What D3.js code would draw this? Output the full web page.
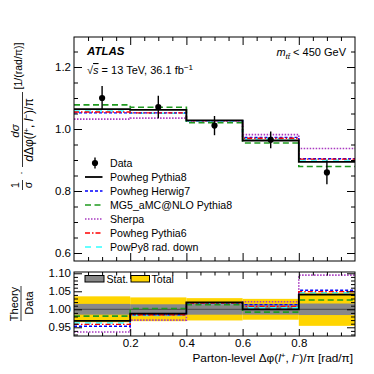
<!DOCTYPE html>
<html><head><meta charset="utf-8">
<script src="https://cdn.jsdelivr.net/npm/d3@7"></script>
<style>
body{margin:0;background:#fff;}
svg text{font-family:"Liberation Sans",Arial,Helvetica,sans-serif;fill:#000;}
</style></head>
<body><svg id="c" width="374" height="374"></svg>
<script>
// ---------- data ----------
const binEdges = [0, 0.2, 0.4, 0.6, 0.8, 1.0];
const dataValues = [1.100, 1.071, 1.011, 0.965, 0.860];
const dataErrors = [0.039, 0.036, 0.031, 0.027, 0.038];

const powhegPythia8 = [1.064, 1.062, 1.028, 0.963, 0.894];
const powhegHerwig7 = [1.052, 1.052, 1.027, 0.973, 0.904];
const mg5Pythia8    = [1.078, 1.070, 1.020, 0.955, 0.879];
const sherpa        = [1.032, 1.035, 1.026, 0.982, 0.937];
const powhegPythia6 = [1.055, 1.052, 1.027, 0.970, 0.903];
const powPy8RadDown = [1.058, 1.051, 1.026, 0.969, 0.900];

const ratioPythia8 = [0.968, 0.988, 1.019, 1.000, 1.041];
const ratioHerwig7 = [0.953, 0.985, 1.017, 1.013, 1.053];
const ratioMG5     = [0.981, 1.002, 1.013, 0.992, 1.026];
const ratioSherpa  = [0.937, 0.970, 1.016, 1.021, 1.095];
const ratioPythia6 = [0.958, 0.985, 1.017, 1.008, 1.049];
const ratioRadDown = [0.962, 0.983, 1.016, 1.004, 1.046];

const statUnc  = [0.015, 0.014, 0.015, 0.015, 0.016];
const totalUnc = [0.036, 0.033, 0.031, 0.029, 0.046];

const seriesNames = ["Powheg Pythia8","Powheg Herwig7","MG5_aMC@NLO Pythia8","Sherpa","Powheg Pythia6","PowPy8 rad. down"];
const xTickLabels = ["0.2","0.4","0.6","0.8"];
const mainYTickLabels = ["0.6","0.8","1.0","1.2"];
const ratioYTickLabels = ["0.95","1.00","1.05","1.10"];

// ---------- styles ----------
const styles = {
  "Powheg Pythia8":      {color:"#000000", dash:null,    w:1.8},
  "Powheg Herwig7":      {color:"#0000ff", dash:"3,2",   w:1.4},
  "MG5_aMC@NLO Pythia8": {color:"#1f9a1f", dash:"6,3.5", w:1.6},
  "Sherpa":              {color:"#a838c0", dash:"1.5,1.5", w:1.6},
  "Powheg Pythia6":      {color:"#ff0000", dash:"5,2,1.5,2", w:1.4},
  "PowPy8 rad. down":    {color:"#33ffff", dash:"6,5",   w:1.6}
};
const mainSeries = {
  "Powheg Pythia8":powhegPythia8, "Powheg Herwig7":powhegHerwig7, "MG5_aMC@NLO Pythia8":mg5Pythia8,
  "Sherpa":sherpa, "Powheg Pythia6":powhegPythia6, "PowPy8 rad. down":powPy8RadDown
};
const ratioSeries = {
  "Powheg Pythia8":ratioPythia8, "Powheg Herwig7":ratioHerwig7, "MG5_aMC@NLO Pythia8":ratioMG5,
  "Sherpa":ratioSherpa, "Powheg Pythia6":ratioPythia6, "PowPy8 rad. down":ratioRadDown
};
const drawOrder = ["Sherpa","PowPy8 rad. down","Powheg Herwig7","Powheg Pythia6","MG5_aMC@NLO Pythia8","Powheg Pythia8"];

// ---------- layout ----------
const L = 74, R = 355;
const mainTop = 37, mainBot = 261;
const ratTop = 272, ratBot = 336;

const svg = d3.select("#c");
const x = d3.scaleLinear().domain([0,1]).range([L,R]);
const y = d3.scaleLinear().domain([0.5742,1.2968]).range([mainBot,mainTop]);
const yr = d3.scaleLinear().domain([0.9258,1.1036]).range([ratBot,ratTop]);

const centers = binEdges.slice(0,-1).map((e,i)=>(e+binEdges[i+1])/2);

function stepPts(vals){
  const pts=[];
  vals.forEach((v,i)=>{pts.push([binEdges[i],v]);pts.push([binEdges[i+1],v]);});
  return pts;
}

// clip paths
const defs = svg.append("defs");
defs.append("clipPath").attr("id","cm").append("rect").attr("x",L).attr("y",mainTop).attr("width",R-L).attr("height",mainBot-mainTop);
defs.append("clipPath").attr("id","cr").append("rect").attr("x",L).attr("y",ratTop).attr("width",R-L).attr("height",ratBot-ratTop);

// ---------- main panel ----------
const gm = svg.append("g").attr("clip-path","url(#cm)");
const lineMain = d3.line().x(d=>x(d[0])).y(d=>y(d[1]));
drawOrder.forEach(n=>{
  const s=styles[n];
  gm.append("path").attr("d",lineMain(stepPts(mainSeries[n]))).attr("fill","none")
    .attr("stroke",s.color).attr("stroke-width",s.w).attr("stroke-dasharray",s.dash);
});
// data
const gd = gm.append("g");
dataValues.forEach((v,i)=>{
  gd.append("line").attr("x1",x(centers[i])).attr("x2",x(centers[i]))
    .attr("y1",y(v-dataErrors[i])).attr("y2",y(v+dataErrors[i])).attr("stroke","#000").attr("stroke-width",1.4);
  gd.append("circle").attr("cx",x(centers[i])).attr("cy",y(v)).attr("r",3.1).attr("fill","#000");
});

// ---------- ratio panel ----------
const gr = svg.append("g").attr("clip-path","url(#cr)");
totalUnc.forEach((u,i)=>{
  gr.append("rect").attr("x",x(binEdges[i])).attr("width",x(binEdges[i+1])-x(binEdges[i]))
    .attr("y",yr(1+u)).attr("height",yr(1-u)-yr(1+u)).attr("fill","#ffd500");
});
statUnc.forEach((u,i)=>{
  gr.append("rect").attr("x",x(binEdges[i])).attr("width",x(binEdges[i+1])-x(binEdges[i]))
    .attr("y",yr(1+u)).attr("height",yr(1-u)-yr(1+u)).attr("fill","#888888");
});
gr.append("line").attr("x1",L).attr("x2",R).attr("y1",yr(1)).attr("y2",yr(1)).attr("stroke","#555").attr("stroke-width",1.2);
const lineRat = d3.line().x(d=>x(d[0])).y(d=>yr(d[1]));
drawOrder.forEach(n=>{
  const s=styles[n];
  gr.append("path").attr("d",lineRat(stepPts(ratioSeries[n]))).attr("fill","none")
    .attr("stroke",s.color).attr("stroke-width",s.w).attr("stroke-dasharray",s.dash);
});

// ---------- axes ----------
function styleAxis(g){ g.select(".domain").remove(); g.selectAll("line").attr("stroke","#000").attr("stroke-width",1); g.selectAll("text").attr("font-size","11.5px").attr("font-family","Liberation Sans, Arial, sans-serif"); }
const xMajor=[0.2,0.4,0.6,0.8];
const xMinor=d3.range(0.05,1.0,0.05).filter(v=>Math.abs(v*5-Math.round(v*5))>1e-6);
// main panel
svg.append("g").attr("transform",`translate(0,${mainBot})`).call(d3.axisBottom(x).tickValues(xMajor).tickSize(-8).tickFormat("")).call(styleAxis);
svg.append("g").attr("transform",`translate(0,${mainBot})`).call(d3.axisBottom(x).tickValues(xMinor).tickSize(-4).tickFormat("")).call(styleAxis);
svg.append("g").attr("transform",`translate(0,${mainTop})`).call(d3.axisTop(x).tickValues(xMajor).tickSize(-8).tickFormat("")).call(styleAxis);
svg.append("g").attr("transform",`translate(0,${mainTop})`).call(d3.axisTop(x).tickValues(xMinor).tickSize(-4).tickFormat("")).call(styleAxis);
const yMajor=mainYTickLabels.map(Number);
const yMinor=d3.range(0.60,1.30,0.05).filter(v=>Math.abs(v*5-Math.round(v*5))>1e-6);
svg.append("g").attr("transform",`translate(${L},0)`).call(d3.axisLeft(y).tickValues(yMajor).tickSize(-8).tickPadding(3).tickFormat((d,i)=>mainYTickLabels[i])).call(styleAxis);
svg.append("g").attr("transform",`translate(${L},0)`).call(d3.axisLeft(y).tickValues(yMinor).tickSize(-4).tickFormat("")).call(styleAxis);
svg.append("g").attr("transform",`translate(${R},0)`).call(d3.axisRight(y).tickValues(yMajor).tickSize(-8).tickFormat("")).call(styleAxis);
svg.append("g").attr("transform",`translate(${R},0)`).call(d3.axisRight(y).tickValues(yMinor).tickSize(-4).tickFormat("")).call(styleAxis);
// ratio panel
svg.append("g").attr("transform",`translate(0,${ratBot})`).call(d3.axisBottom(x).tickValues(xMajor).tickSize(-7).tickPadding(3).tickFormat((d,i)=>xTickLabels[i])).call(styleAxis);
svg.append("g").attr("transform",`translate(0,${ratBot})`).call(d3.axisBottom(x).tickValues(xMinor).tickSize(-3.5).tickFormat("")).call(styleAxis);
svg.append("g").attr("transform",`translate(0,${ratTop})`).call(d3.axisTop(x).tickValues(xMajor).tickSize(-7).tickFormat("")).call(styleAxis);
svg.append("g").attr("transform",`translate(0,${ratTop})`).call(d3.axisTop(x).tickValues(xMinor).tickSize(-3.5).tickFormat("")).call(styleAxis);
const rMajor=ratioYTickLabels.map(Number);
const rMinor=d3.range(0.93,1.101,0.01).filter(v=>Math.abs(v*20-Math.round(v*20))>1e-6);
svg.append("g").attr("transform",`translate(${L},0)`).call(d3.axisLeft(yr).tickValues(rMajor).tickSize(-8).tickPadding(3).tickFormat((d,i)=>ratioYTickLabels[i])).call(styleAxis);
svg.append("g").attr("transform",`translate(${L},0)`).call(d3.axisLeft(yr).tickValues(rMinor).tickSize(-4).tickFormat("")).call(styleAxis);
svg.append("g").attr("transform",`translate(${R},0)`).call(d3.axisRight(yr).tickValues(rMajor).tickSize(-8).tickFormat("")).call(styleAxis);
svg.append("g").attr("transform",`translate(${R},0)`).call(d3.axisRight(yr).tickValues(rMinor).tickSize(-4).tickFormat("")).call(styleAxis);

// frames
svg.append("rect").attr("x",L).attr("y",mainTop).attr("width",R-L).attr("height",mainBot-mainTop).attr("fill","none").attr("stroke","#000").attr("stroke-width",1);
svg.append("rect").attr("x",L).attr("y",ratTop).attr("width",R-L).attr("height",ratBot-ratTop).attr("fill","none").attr("stroke","#000").attr("stroke-width",1);

// ---------- texts ----------
svg.append("text").attr("x",87).attr("y",55).attr("font-size","11.5px").attr("font-weight","bold").attr("font-style","italic").text("ATLAS");
const t1 = svg.append("text").attr("x",87).attr("y",74).attr("font-size","11px");
t1.append("tspan").text("√");
t1.append("tspan").attr("font-style","italic").attr("text-decoration","overline").text("s");
t1.append("tspan").text(" = 13 TeV, 36.1 fb");
t1.append("tspan").attr("dy",-4).attr("font-size","8px").text("−1");
const t2 = svg.append("text").attr("x",346).attr("y",56).attr("font-size","11px").attr("text-anchor","end");
t2.append("tspan").attr("font-style","italic").text("m");
t2.append("tspan").attr("dy",2.5).attr("font-size","8px").attr("font-style","italic").text("tt̄");
t2.append("tspan").attr("dy",-2.5).text(" < 450 GeV");

// main legend
const legY0 = 163, legDy = 14;
const lg = svg.append("g");
lg.append("line").attr("x1",95).attr("x2",95).attr("y1",legY0-5.5).attr("y2",legY0+5.5).attr("stroke","#000").attr("stroke-width",1.4);
lg.append("circle").attr("cx",95).attr("cy",legY0).attr("r",3.1).attr("fill","#000");
lg.append("text").attr("x",110).attr("y",legY0+4).attr("font-size","10.6px").text("Data");
seriesNames.forEach((n,i)=>{
  const yy = legY0 + legDy*(i+1);
  const s=styles[n];
  lg.append("line").attr("x1",85).attr("x2",102.5).attr("y1",yy).attr("y2",yy)
    .attr("stroke",s.color).attr("stroke-width",s.w).attr("stroke-dasharray",s.dash);
  lg.append("text").attr("x",110).attr("y",yy+4).attr("font-size","10.6px").text(n);
});

// ratio legend
svg.append("rect").attr("x",85).attr("y",275.5).attr("width",19).attr("height",6.5).attr("fill","#888").attr("stroke","#000").attr("stroke-width",1);
svg.append("text").attr("x",106.5).attr("y",282.5).attr("font-size","10.6px").text("Stat.");
svg.append("rect").attr("x",131).attr("y",275.5).attr("width",18.5).attr("height",6.5).attr("fill","#ffd500").attr("stroke","#000").attr("stroke-width",1);
svg.append("text").attr("x",151.5).attr("y",282.5).attr("font-size","10.6px").text("Total");

// x-axis title
const xt = svg.append("text").attr("x",353).attr("y",362).attr("font-size","11.8px").attr("text-anchor","end");
xt.append("tspan").text("Parton-level Δφ(");
xt.append("tspan").attr("font-style","italic").text("l");
xt.append("tspan").attr("dy",-4).attr("font-size","8px").text("+");
xt.append("tspan").attr("dy",4).text(", ");
xt.append("tspan").attr("font-style","italic").text("l");
xt.append("tspan").attr("dy",-4).attr("font-size","8px").text("−");
xt.append("tspan").attr("dy",4).text(")/π [rad/π]");

// main y title (rotated)
const yg = svg.append("g").attr("transform","rotate(-90)");
yg.append("text").attr("x",-185).attr("y",19).attr("font-size","10.5px").attr("text-anchor","middle").text("1");
yg.append("line").attr("x1",-190).attr("x2",-180).attr("y1",22.5).attr("y2",22.5).attr("stroke","#000").attr("stroke-width",0.8);
yg.append("text").attr("x",-185).attr("y",31.5).attr("font-size","10.5px").attr("text-anchor","middle").text("σ");
yg.append("text").attr("x",-173).attr("y",25).attr("font-size","10.5px").attr("text-anchor","middle").text("·");
const num = yg.append("text").attr("x",-131).attr("y",19).attr("font-size","11.5px").attr("text-anchor","middle");
num.append("tspan").attr("font-style","italic").text("d");
num.append("tspan").attr("font-style","italic").text("σ");
yg.append("line").attr("x1",-167).attr("x2",-92).attr("y1",22.5).attr("y2",22.5).attr("stroke","#000").attr("stroke-width",0.8);
const den = yg.append("text").attr("x",-130).attr("y",33).attr("font-size","12px").attr("text-anchor","middle");
den.append("tspan").attr("font-style","italic").text("d");
den.append("tspan").text("Δφ(");
den.append("tspan").attr("font-style","italic").text("l");
den.append("tspan").attr("dy",-4).attr("font-size","8px").text("+");
den.append("tspan").attr("dy",4).text(", ");
den.append("tspan").attr("font-style","italic").text("l");
den.append("tspan").attr("dy",-4).attr("font-size","8px").text("−");
den.append("tspan").attr("dy",4).text(")/π");
yg.append("text").attr("x",-66).attr("y",21.5).attr("font-size","10.5px").attr("text-anchor","middle").text("[1/(rad/π)]");

// ratio y title
const rg = svg.append("g").attr("transform","rotate(-90)");
rg.append("text").attr("x",-304).attr("y",17.5).attr("font-size","11px").attr("text-anchor","middle").text("Theory");
rg.append("line").attr("x1",-321).attr("x2",-286).attr("y1",21).attr("y2",21).attr("stroke","#000").attr("stroke-width",0.8);
rg.append("text").attr("x",-303).attr("y",33).attr("font-size","11px").attr("text-anchor","middle").text("Data");
</script></body></html>
